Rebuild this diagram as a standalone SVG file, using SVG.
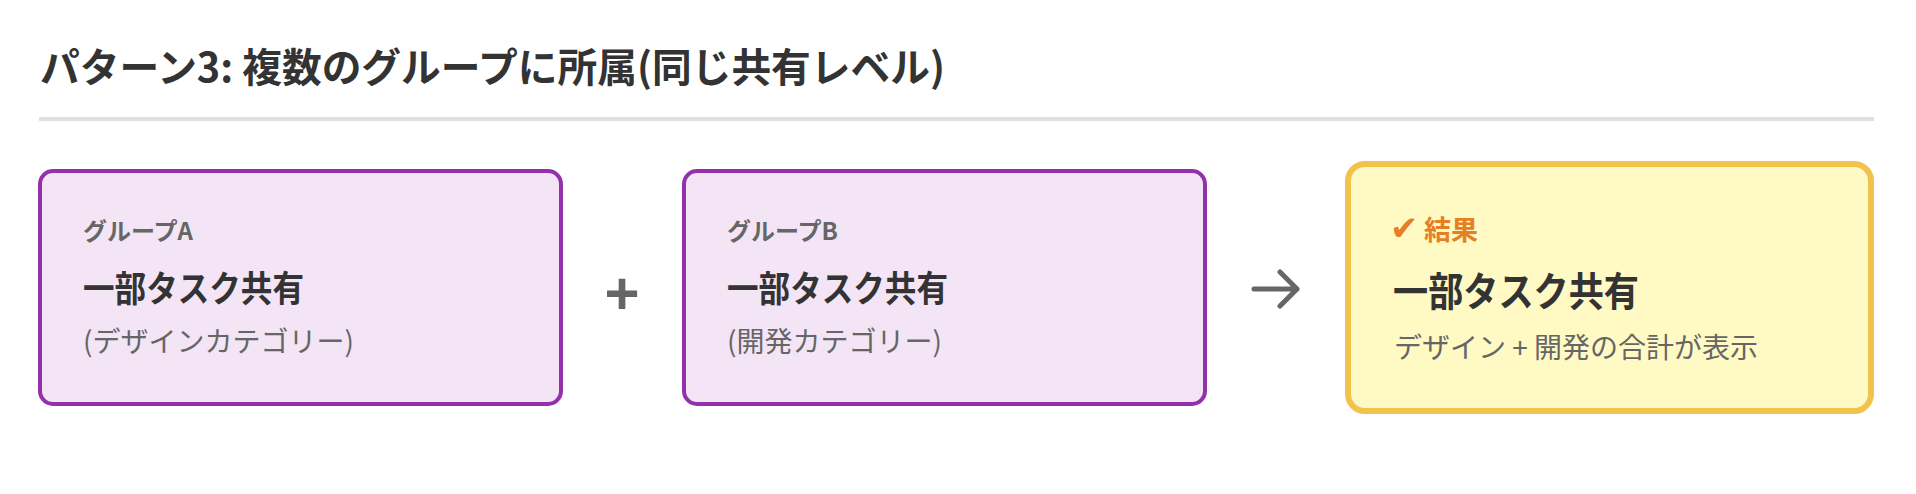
<svg xmlns="http://www.w3.org/2000/svg" width="1916" height="494" viewBox="0 0 1916 494">
<style>
text{font-family:"Noto Sans CJK JP","Liberation Sans",sans-serif;}
.title{font-size:40px;font-weight:700;fill:#333;}
.lbl{font-size:24px;font-weight:700;fill:#666;}
.head{font-size:36px;font-weight:700;fill:#333;}
.headc{font-size:40px;font-weight:700;fill:#333;}
.sub{font-size:28px;font-weight:400;fill:#666;}
.res{font-size:27px;font-weight:700;fill:#e67e22;}
.chk{font-family:"DejaVu Sans",sans-serif;font-size:34px;font-weight:700;fill:#e67e22;}
.grp{fill:#f3e5f5;stroke:#9331ab;stroke-width:4;}
.resbox{fill:#fff9c4;stroke:#f2c24f;stroke-width:6;}
.op{font-family:"Liberation Sans",sans-serif;font-size:60px;font-weight:700;fill:#666;}
</style>
<rect width="1916" height="494" fill="#fff"/>
<text class="title" x="40" y="82" textLength="905" lengthAdjust="spacingAndGlyphs">パターン3: 複数のグループに所属(同じ共有レベル)</text>
<rect x="39" y="117" width="1835" height="4" fill="#e0e0e0"/>
<g id="groupA">
<rect class="grp" x="40" y="171" width="521" height="233" rx="13"/>
<text class="lbl" x="83" y="240">グループA</text>
<text class="head" x="83" y="302" textLength="221" lengthAdjust="spacingAndGlyphs">一部タスク共有</text>
<text class="sub" x="83" y="352">(デザインカテゴリー)</text>
</g>
<g id="plus">
<text class="op" x="622" y="314" text-anchor="middle">+</text>
</g>
<g id="groupB">
<rect class="grp" x="684" y="171" width="521" height="233" rx="13"/>
<text class="lbl" x="727" y="240">グループB</text>
<text class="head" x="727" y="302" textLength="221" lengthAdjust="spacingAndGlyphs">一部タスク共有</text>
<text class="sub" x="727" y="352">(開発カテゴリー)</text>
</g>
<g id="connectors">
<path d="M1254 289 H1297 M1280 272 L1297 289 L1280 306" fill="none" stroke="#666" stroke-width="5" stroke-linecap="round" stroke-linejoin="round"/>
</g>
<g id="result">
<rect class="resbox" x="1348" y="164" width="523" height="247" rx="17"/>
<text class="chk" x="1390" y="240">✔</text>
<text class="res" x="1424" y="240">結果</text>
<text class="headc" x="1393" y="306" textLength="246" lengthAdjust="spacingAndGlyphs">一部タスク共有</text>
<text class="sub" x="1394" y="358">デザイン + 開発の合計が表示</text>
</g>
</svg>
